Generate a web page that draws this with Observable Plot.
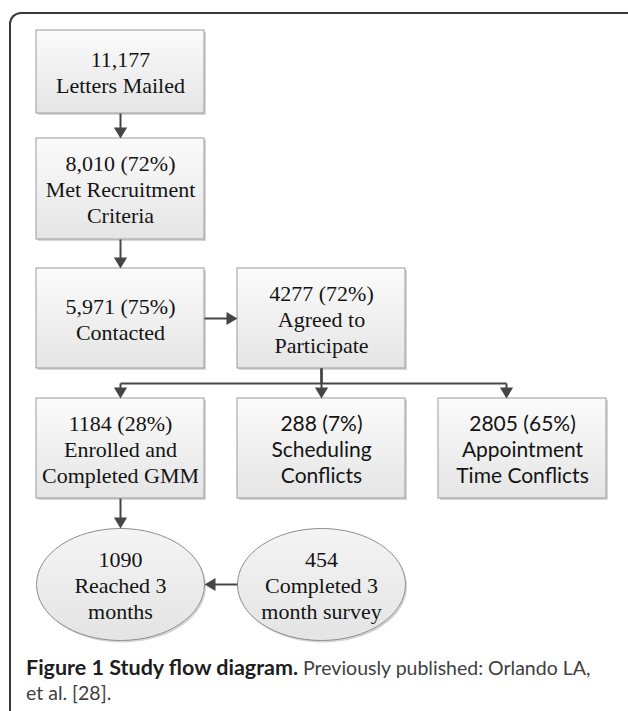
<!DOCTYPE html>
<html>
<head>
<meta charset="utf-8">
<script src="https://cdn.jsdelivr.net/npm/d3@7"></script>
<script src="https://cdn.jsdelivr.net/npm/@observablehq/plot@0.6"></script>
<style>
  html, body { margin: 0; padding: 0; background: #fff; }
  #page { position: relative; width: 628px; height: 711px; overflow: hidden; }
  #frame { position: absolute; left: 9px; top: 12px; width: 700px; height: 760px;
           border-left: 2px solid #3a3a3a; border-top: 2px solid #3a3a3a; border-top-left-radius: 12px; }
  #chart { position: absolute; left: 0; top: 0; }
  #caption { position: absolute; left: 26px; top: 655px; width: 600px; font-family: Lato, sans-serif;
             font-size: 19.5px; line-height: 25px; color: #404040; white-space: nowrap; }
  #caption b { color: #1e1e1e; font-weight: 700; font-size: 21.5px; }
</style>
</head>
<body>
<div id="page">
  <div id="frame"></div>
  <div id="chart"></div>
  <div id="caption"><b>Figure 1 Study flow diagram.</b> Previously published: Orlando LA,<br>et al. [28].</div>
</div>
<script>
// ---------- data ----------
const nodeLabels = [
  ["11,177", "Letters Mailed"],
  ["8,010 (72%)", "Met Recruitment", "Criteria"],
  ["5,971 (75%)", "Contacted"],
  ["4277 (72%)", "Agreed to", "Participate"],
  ["1184 (28%)", "Enrolled and", "Completed GMM"],
  ["288 (7%)", "Scheduling", "Conflicts"],
  ["2805 (65%)", "Appointment", "Time Conflicts"],
  ["1090", "Reached 3", "months"],
  ["454", "Completed 3", "month survey"]
];
const nodeCols   = [0, 0, 0, 1, 0, 1, 2, 0, 1];
const nodeRows   = [0, 1, 2, 2, 3, 3, 3, 4, 4];
const nodeShapes = ["box", "box", "box", "box", "box", "box", "box", "ellipse", "ellipse"];
const nodeFonts  = ["serif", "serif", "serif", "serif", "serif", "sans", "sans", "serif", "serif"];
const edgeFrom   = [0, 1, 2, 3, 3, 3, 4, 8];
const edgeTo     = [1, 2, 3, 4, 5, 6, 7, 7];

// ---------- layout (diagram units) ----------
const W = 628, H = 650;
const colLeft = [36, 237, 438], colWidth = 168;
const rowTop = [30, 138, 268, 398, 528];
const rowBottom = [113, 239, 368, 498, 640];
const dropX = {6: 506};
const colMid = c => colLeft[c] + colWidth / 2;
const rowMid = r => (rowTop[r] + rowBottom[r]) / 2;

const idx = nodeLabels.map((_, i) => i);
const boxes = idx.filter(i => nodeShapes[i] === "box");
const ellipses = idx.filter(i => nodeShapes[i] === "ellipse");

// connectors
const segs = [], heads = [];
const headLen = 11, trim = 5;
edgeFrom.forEach((s, k) => {
  const t = edgeTo[k];
  const sc = nodeCols[s], tc = nodeCols[t], sr = nodeRows[s], tr = nodeRows[t];
  if (sr === tr) {
    const y = rowMid(sr), dir = tc > sc ? 1 : -1;
    const x1 = dir > 0 ? colLeft[sc] + colWidth : colLeft[sc];
    const x2 = dir > 0 ? colLeft[tc] : colLeft[tc] + colWidth;
    segs.push({x1, y1: y, x2: x2 - dir * trim, y2: y});
    heads.push({x: x2, y, dir: dir > 0 ? "right" : "left"});
  } else {
    const x1 = colMid(sc), y1 = rowBottom[sr];
    const tx = dropX[t] ?? colMid(tc), y2 = rowTop[tr];
    if (tx === x1) {
      segs.push({x1, y1, x2: x1, y2: y2 - trim});
    } else {
      const ym = (y1 + y2) / 2;
      segs.push({x1, y1, x2: x1, y2: ym});
      segs.push({x1, y1: ym, x2: tx, y2: ym});
      segs.push({x1: tx, y1: ym, x2: tx, y2: y2 - trim});
    }
    heads.push({x: tx, y: y2, dir: "down"});
  }
});

// custom symbols
function ellipseSymbol(aspect) {
  return {draw(ctx, size) {
    const rx = Math.sqrt(size / Math.PI), ry = rx * aspect, k = 0.5523;
    ctx.moveTo(rx, 0);
    ctx.bezierCurveTo(rx, ry * k, rx * k, ry, 0, ry);
    ctx.bezierCurveTo(-rx * k, ry, -rx, ry * k, -rx, 0);
    ctx.bezierCurveTo(-rx, -ry * k, -rx * k, -ry, 0, -ry);
    ctx.bezierCurveTo(rx * k, -ry, rx, -ry * k, rx, 0);
    ctx.closePath();
  }};
}
function arrowSymbol(dx, dy) {
  return {draw(ctx, size) {
    const L = Math.sqrt(size / Math.PI), w = L * 0.6;
    const bx = -dx * L, by = -dy * L, px = -dy, py = dx;
    ctx.moveTo(0, 0);
    ctx.lineTo(bx + px * w, by + py * w);
    ctx.lineTo(bx - px * w, by - py * w);
    ctx.closePath();
  }};
}
const dirs = {down: [0, 1], right: [1, 0], left: [-1, 0]};

const ellAspect = (rowBottom[4] - rowTop[4]) / colWidth;

function defs() {
  const d = d3.create("svg:defs");
  const g1 = d.append("linearGradient").attr("id", "boxGrad").attr("x1", 0).attr("y1", 0).attr("x2", 0).attr("y2", 1);
  g1.append("stop").attr("offset", "0%").attr("stop-color", "#fbfbfb");
  g1.append("stop").attr("offset", "100%").attr("stop-color", "#e5e5e5");
  const g2 = d.append("linearGradient").attr("id", "ellGrad").attr("x1", 0).attr("y1", 0).attr("x2", 0).attr("y2", 1);
  g2.append("stop").attr("offset", "0%").attr("stop-color", "#f4f4f4");
  g2.append("stop").attr("offset", "100%").attr("stop-color", "#e4e4e4");
  return d.node();
}

const boxSpec = {
  x1: i => colLeft[nodeCols[i]], x2: i => colLeft[nodeCols[i]] + colWidth,
  y1: i => rowTop[nodeRows[i]], y2: i => rowBottom[nodeRows[i]]
};
const ellSpec = {x: i => colMid(nodeCols[i]), y: i => rowMid(nodeRows[i]), r: colWidth / 2, symbol: ellipseSymbol(ellAspect)};

const textMark = (font, family, size) => Plot.text(idx.filter(i => nodeFonts[i] === font), {
  x: i => colMid(nodeCols[i]), y: i => rowMid(nodeRows[i]),
  text: i => nodeLabels[i].join("\n"),
  fontFamily: family, fontSize: size, lineHeight: 26 / size, fill: "#141414", textAnchor: "middle"
});

const chart = Plot.plot({
  width: W, height: H, margin: 0,
  x: {domain: [0, W], range: [0, W], axis: null},
  y: {domain: [0, H], range: [0, H], axis: null},
  style: {background: "transparent", overflow: "visible"},
  marks: [
    defs,
    // shadows
    Plot.rect(boxes, {...boxSpec, dx: 2, dy: 2, fill: "#d6d6d6"}),
    Plot.dot(ellipses, {...ellSpec, dx: 1.5, dy: 2, fill: "#d6d6d6", stroke: "none"}),
    // nodes
    Plot.rect(boxes, {...boxSpec, fill: "url(#boxGrad)", stroke: "#9c9c9c", strokeWidth: 1}),
    Plot.dot(ellipses, {...ellSpec, fill: "url(#ellGrad)", stroke: "#8e8e8e", strokeWidth: 1}),
    // connectors
    Plot.link(segs, {x1: "x1", y1: "y1", x2: "x2", y2: "y2", stroke: "#454545", strokeWidth: 2}),
    ...Object.keys(dirs).map(k => Plot.dot(heads.filter(h => h.dir === k), {
      x: "x", y: "y", r: headLen, symbol: arrowSymbol(...dirs[k]), fill: "#454545", stroke: "none"
    })),
    // labels
    textMark("serif", "Liberation Serif, Times New Roman, serif", 22),
    textMark("sans", "Lato, sans-serif", 21)
  ]
});
document.getElementById("chart").appendChild(chart);
</script>
</body>
</html>
